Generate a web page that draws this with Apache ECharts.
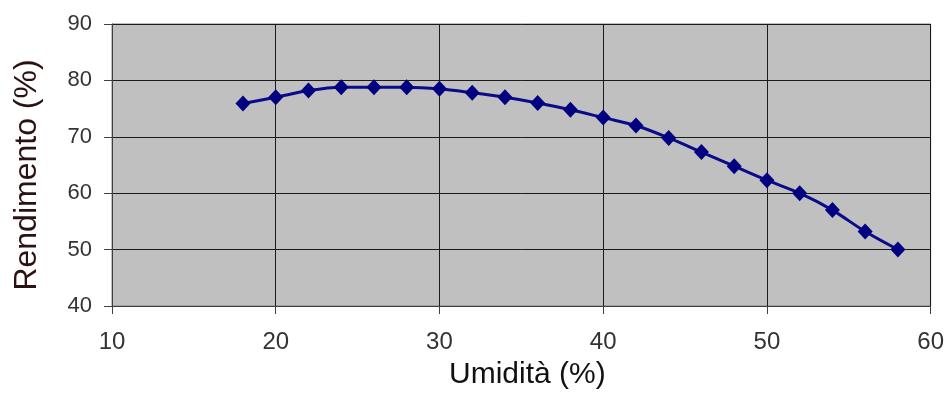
<!DOCTYPE html>
<html>
<head>
<meta charset="utf-8">
<script src="https://cdn.jsdelivr.net/npm/echarts@6/dist/echarts.min.js"></script>
<style>
  html, body { margin: 0; padding: 0; background: #ffffff; }
  #chart { width: 947px; height: 395px; }
</style>
</head>
<body>
<div id="chart"></div>
<script>
// Moisture content (%) versus efficiency (%)
const umidita = [18, 20, 22, 24, 26, 28, 30, 32, 34, 36, 38, 40, 42, 44, 46, 48, 50, 52, 54, 56, 58];
const rendimento = [75.9, 77.0, 78.2, 78.8, 78.8, 78.8, 78.5, 77.8, 77.0, 76.0, 74.8, 73.4, 72.0, 69.8, 67.3, 64.8, 62.3, 60.0, 57.0, 53.2, 50.0];

const xTitle = 'Umidità (%)';
const yTitle = 'Rendimento (%)';

const points = umidita.map((x, i) => [x, rendimento[i]]);

const chart = echarts.init(document.getElementById('chart'), null, { renderer: 'canvas' });
chart.setOption({
  animation: false,
  backgroundColor: '#ffffff',
  grid: {
    left: 112, right: 16, top: 24, bottom: 88,
    show: true,
    backgroundColor: '#c0c0c0',
    borderColor: '#808080',
    borderWidth: 1
  },
  xAxis: {
    type: 'value',
    min: 10, max: 60, interval: 10,
    name: xTitle,
    nameLocation: 'middle',
    nameGap: 54,
    nameTextStyle: { fontFamily: 'Liberation Sans', fontSize: 30, color: '#111111', padding: [0, 0, 0, 12] },
    axisLine: { show: true, lineStyle: { color: '#404040', width: 1 } },
    axisTick: { show: true, inside: false, length: 8, lineStyle: { color: '#404040' } },
    axisLabel: { margin: 24, fontFamily: 'Liberation Sans', fontSize: 24, color: '#333333' },
    splitLine: { show: true, lineStyle: { color: '#1a1a1a', width: 1 } }
  },
  yAxis: {
    type: 'value',
    min: 40, max: 90, interval: 10,
    name: yTitle,
    nameLocation: 'middle',
    nameGap: 69,
    nameTextStyle: { fontFamily: 'Liberation Sans', fontSize: 32, color: '#2a1212', padding: [0, 20, 0, 0] },
    axisLine: { show: true, lineStyle: { color: '#404040', width: 1 } },
    axisTick: { show: true, inside: false, length: 8, lineStyle: { color: '#404040' } },
    axisLabel: { margin: 20, fontFamily: 'Liberation Sans', fontSize: 22, color: '#333333' },
    splitLine: { show: true, lineStyle: { color: '#1a1a1a', width: 1 } }
  },
  series: [{
    type: 'line',
    data: points,
    smooth: 0.3,
    symbol: 'diamond',
    symbolSize: [15, 16],
    lineStyle: { color: '#0a0a8a', width: 3 },
    itemStyle: { color: '#000080', borderWidth: 0 }
  }]
});
</script>
</body>
</html>
